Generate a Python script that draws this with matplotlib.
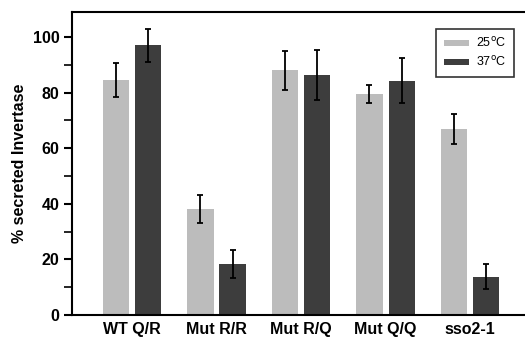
import matplotlib.pyplot as plt
import numpy as np

plt.rcParams['font.family'] = ['Liberation Sans', 'DejaVu Sans']

# data
categories = ["WT Q/R", "Mut R/R", "Mut R/Q", "Mut Q/Q", "sso2-1"]
val_25 = [84.5, 38, 88, 79.5, 67]
err_25 = [6, 5, 7, 3.3, 5.4]
val_37 = [97, 18.3, 86.5, 84.3, 13.8]
err_37 = [6, 5, 9, 8, 4.6]

x = np.arange(len(categories))
w = 0.31
off = 0.19

fig = plt.figure(figsize=(5.25, 3.39), dpi=100)
ax = fig.add_axes([72/525, 1-315/339, 1-72/525, (315-12)/339])

ekw = dict(ecolor='black', elinewidth=1.3, capsize=2.5, capthick=1.3)
ax.bar(x - off, val_25, w, yerr=err_25, color='#bcbcbc', label='25$^{\\mathrm{o}}$C', error_kw=ekw)
ax.bar(x + off, val_37, w, yerr=err_37, color='#3d3d3d', label='37$^{\\mathrm{o}}$C', error_kw=ekw)

ax.set_xlim(-0.71, 4.65)
ax.set_ylim(0, 109)
ax.set_yticks([0, 20, 40, 60, 80, 100])
ax.set_yticks([10, 30, 50, 70, 90], minor=True)
ax.set_xticks(x)
ax.set_xticklabels(categories, fontsize=11.5, fontweight='bold')
ax.tick_params(axis='y', labelsize=11.5, width=1.5, length=6, pad=3)
for lab in ax.get_yticklabels():
    lab.set_fontweight('bold')
ax.tick_params(axis='y', which='minor', width=1.2, length=6)
ax.tick_params(axis='x', length=0, pad=5)
ax.set_ylabel('% secreted Invertase', fontsize=11.5, fontweight='bold', labelpad=4)

for s in ['left', 'bottom', 'top']:
    ax.spines[s].set_linewidth(1.5)
ax.spines['right'].set_visible(False)

leg = ax.legend(loc='upper right', bbox_to_anchor=(0.99, 0.965), handlelength=2.0,
                fontsize=9, frameon=True, fancybox=False, edgecolor='black',
                handleheight=0.4, borderpad=0.6, labelspacing=0.4, handletextpad=0.6)
leg.get_frame().set_linewidth(1.2)

fig.savefig('out.png', dpi=100)
